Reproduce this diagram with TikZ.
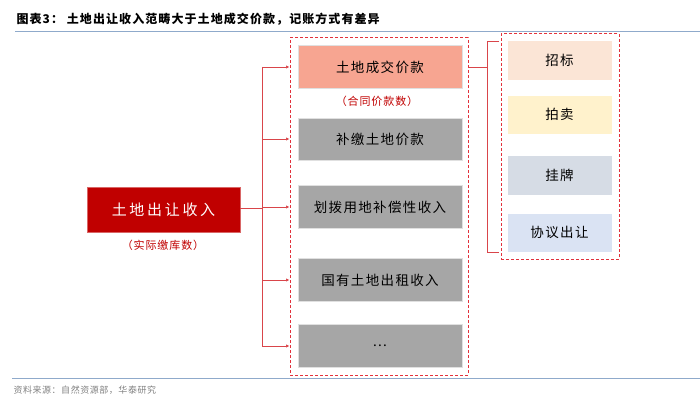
\documentclass[tikz,border=0pt]{standalone}
\usepackage{fontspec}
\setmainfont{Noto Sans CJK SC}
\usetikzlibrary{positioning,arrows.meta,calc}
\definecolor{hdred}{HTML}{C00000}
\definecolor{dashred}{HTML}{E2313B}
\definecolor{lnred}{HTML}{D9454A}
\definecolor{salmon}{HTML}{F7A591}
\definecolor{midgray}{HTML}{A6A6A6}
\definecolor{peach}{HTML}{FBE5D6}
\definecolor{lyellow}{HTML}{FFF2CC}
\definecolor{bluegray}{HTML}{D6DCE5}
\definecolor{lblue}{HTML}{DAE3F3}
\definecolor{rule}{HTML}{8FAACB}

\begin{document}
\begin{tikzpicture}[x=1pt,y=-1pt,font=\fontsize{13.5}{15}\selectfont\addfontfeature{LetterSpace=10},
		cbox/.style={draw=black!12,line width=0.6pt,minimum width=164pt,minimum height=43pt,inner sep=0pt,align=center},
		sbox/.style={draw=white,line width=0.6pt,minimum width=105pt,minimum height=39pt,inner sep=0pt},
		grp/.style={draw=dashred,line width=1pt,dash pattern=on 3pt off 2pt,inner sep=0pt},
		note/.style={text=hdred,font=\fontsize{11}{12}\selectfont\addfontfeature{LetterSpace=8}},
		ar/.style={lnred,line width=0.9pt,-{Latex[length=3.5pt,width=3.5pt]}},
		ln/.style={lnred,line width=0.9pt}]
		\useasboundingbox (0,0) rectangle (700,409);
		% title and rules
		\node[anchor=west,font=\fontsize{12}{14}\selectfont\bfseries\addfontfeature{LetterSpace=9}] (title) at (13,19) {图表3：\ 土地出让收入范畴大于土地成交价款，记账方式有差异};
		\draw[rule,line width=1pt] (15,32) -- (700,32);
		\draw[rule,line width=1pt] (12,378) -- (700,378);
		\node[anchor=west,text=black!50,font=\fontsize{9}{11}\selectfont\addfontfeature{LetterSpace=6}] (src) at (10,390) {资料来源：自然资源部，华泰研究};
		% left
		\node[fill=hdred,draw=hdred!60,minimum width=153pt,minimum height=45pt,inner sep=0pt,text=white,font=\fontsize{15}{17}\selectfont\addfontfeature{LetterSpace=18}] (total) at (163.5,209.5) {土地出让收入};
		\node[note] (totnote) at (163,245) {（实际缴库数）};
		% middle
		\node[grp,minimum width=178pt,minimum height=337pt] (grpA) at (379,206.5) {};
		\node[cbox,fill=salmon] (deal)  at (380,67)  {土地成交价款};
		\node[note]             (dealnote) at (377,101) {（合同价款数）};
		\node[cbox,fill=midgray,minimum height=42pt] (extra) at (380,139) {补缴土地价款};
		\node[cbox,fill=midgray] (alloc) at (380,207) {划拨用地补偿性收入};
		\node[cbox,fill=midgray] (rent)  at (380,280) {国有土地出租收入};
		\node[cbox,fill=midgray] (more)  at (380,346) {...};
		% right
		\node[grp,minimum width=118pt,minimum height=225pt] (grpB) at (560,146.5) {};
		\node[sbox,fill=peach,minimum height=40pt] (bid) at (559.5,60) {招标};
		\node[sbox,fill=lyellow] (auct) at (559.5,114.5) {拍卖};
		\node[sbox,fill=bluegray,minimum height=40pt] (list) at (559.5,175) {挂牌};
		\node[sbox,fill=lblue] (agree) at (559.5,232.5) {协议出让};
		% connectors
		\coordinate (trunk) at (262,208);
		\draw[ln] (total.east |- trunk) -- (trunk);
		\draw[ln] (trunk |- deal) -- (trunk |- more);
		\foreach \n in {deal,extra,alloc,rent,more}
			\draw[ar] (trunk |- \n) -- (grpA.west |- \n);
		\coordinate (brk) at (487,67);
		\coordinate (brktop) at (487,41);
		\coordinate (brkbot) at (487,252);
		\draw[ln] (grpA.east |- deal) -- (brk);
		\draw[ln] ([xshift=12pt]brktop) -- (brktop) -- (brkbot) -- ([xshift=12pt]brkbot);
	\end{tikzpicture}
\end{document}
